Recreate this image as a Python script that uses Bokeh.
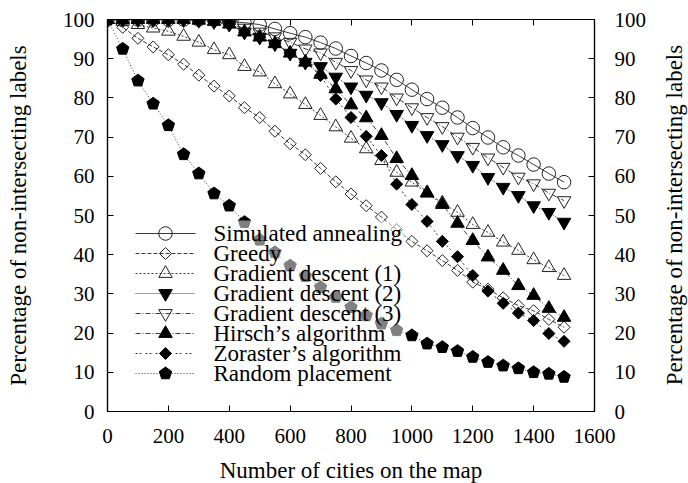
import math
from bokeh.plotting import figure
from bokeh.layouts import row
from bokeh.models import (LinearAxis, Range1d, FixedTicker, CustomJSTickFormatter,
                          BoxAnnotation, Div)
from bokeh.core.properties import value
from bokeh.embed import file_html
from bokeh.resources import INLINE

cities = [0, 50, 100, 150, 200, 250, 300, 350, 400, 450, 500, 550, 600, 650, 700, 750,
          800, 850, 900, 950, 1000, 1050, 1100, 1150, 1200, 1250, 1300, 1350, 1400, 1450, 1500]

simulated_annealing = [100, 100, 100, 100, 100, 100, 100, 100, 99.5, 99.2, 98.7, 97.6, 96.5, 95.5, 94.1, 92.6,
                       90.7, 88.9, 87.0, 84.6, 82.1, 79.7, 77.5, 75.0, 72.3, 69.9, 67.4, 65.3, 63.0, 60.7, 58.5]
greedy = [100, 98.0, 95.2, 93.0, 91.0, 88.6, 85.8, 83.0, 80.5, 77.5, 75.0, 71.5, 68.3, 65.5, 62.0, 58.6,
          55.5, 52.5, 49.6, 46.4, 43.4, 41.0, 38.5, 36.0, 33.0, 31.2, 29.0, 27.0, 25.7, 23.5, 21.5]
gradient_1 = [100, 99.5, 98.7, 97.8, 97.0, 95.7, 94.2, 92.3, 91.0, 88.0, 86.6, 83.6, 81.0, 78.3, 75.5, 72.6,
              69.7, 67.0, 64.0, 61.0, 58.5, 55.8, 53.2, 50.8, 47.7, 45.7, 43.2, 41.1, 38.7, 36.7, 34.7]
gradient_2 = [100, 100, 100, 100, 100, 100, 99.8, 99.5, 98.8, 96.8, 95.5, 93.8, 91.4, 89.1, 88.0, 85.3,
              82.8, 80.7, 78.8, 75.8, 73.0, 70.4, 68.1, 65.3, 62.8, 59.7, 57.2, 55.1, 52.5, 50.8, 48.3]
gradient_3 = [100, 100, 100, 100, 100, 100, 100, 99.5, 98.8, 97.8, 96.8, 95.6, 94.2, 92.5, 91.5, 89.1,
              87.0, 84.6, 82.8, 80.0, 77.5, 75.0, 72.7, 70.0, 67.4, 64.7, 62.3, 59.8, 58.1, 55.7, 53.8]
hirsch = [100, 100, 100, 100, 100, 100, 99.8, 99.5, 98.8, 96.8, 95.5, 93.8, 91.4, 89.1, 86.0, 82.3,
          78.2, 74.9, 70.4, 64.5, 60.2, 55.7, 52.8, 48.0, 43.6, 39.4, 36.0, 32.1, 29.6, 26.3, 24.0]
zoraster = [100, 100, 100, 100, 100, 100, 99.8, 99.5, 98.8, 96.8, 95.5, 93.8, 91.4, 89.1, 85.7, 79.7,
            75.0, 70.2, 65.3, 58.0, 52.8, 48.5, 43.4, 39.5, 34.7, 30.7, 27.6, 25.1, 23.2, 19.9, 17.9]
random_placement = [100, 92.5, 84.4, 78.5, 73.0, 65.6, 60.7, 55.6, 52.5, 48.3, 43.8, 40.6, 37.2, 34.5, 31.7, 29.2,
                    26.6, 24.5, 22.4, 20.7, 19.4, 17.3, 16.4, 15.4, 13.9, 12.6, 11.7, 11.0, 10.0, 9.6, 8.8]

series_names = ["Simulated annealing", "Greedy", "Gradient descent (1)", "Gradient descent (2)",
                "Gradient descent (3)", "Hirsch\u2019s algorithm", "Zoraster\u2019s algorithm",
                "Random placement"]

x_ticks = [0, 200, 400, 600, 800, 1000, 1200, 1400, 1600]
y_ticks = [0, 10, 20, 30, 40, 50, 60, 70, 80, 90, 100]
x_title = "Number of cities on the map"
y_title = "Percentage of non-intersecting labels"

FONT = "Liberation Serif"
TICK_FS = "21px"
LABEL_FS = "23px"

X0, X1, Y0, Y1 = 0, 1600, 0, 100
FW, FH = 487, 392
LEFT, TOP = 107, 19
PW, PH = 660, 483
px_x = (X1 - X0) / FW
px_y = (Y1 - Y0) / FH

p = figure(width=PW, height=PH, output_backend="svg", toolbar_location=None,
           x_range=Range1d(X0, X1), y_range=Range1d(Y0, Y1),
           frame_width=FW, frame_height=FH,
           min_border_left=LEFT, min_border_right=PW - LEFT - FW, min_border_top=TOP,
           min_border_bottom=PH - TOP - FH)
p.grid.visible = False
p.outline_line_color = "black"
p.outline_line_width = 1.2
p.background_fill_color = "white"
p.border_fill_color = "white"

def style_axis(ax):
    ax.axis_line_color = "black"
    ax.axis_line_width = 1.2
    ax.major_tick_in = 6
    ax.major_tick_out = 0
    ax.minor_tick_in = 0
    ax.minor_tick_out = 0
    ax.major_tick_line_color = "black"
    ax.major_label_text_font = FONT
    ax.major_label_text_font_size = TICK_FS
    ax.major_label_text_color = "black"
    ax.axis_label_text_font = FONT
    ax.axis_label_text_font_size = LABEL_FS
    ax.axis_label_text_font_style = "normal"
    ax.axis_label_text_color = "black"

p.xaxis.ticker = FixedTicker(ticks=x_ticks)
p.yaxis.ticker = FixedTicker(ticks=y_ticks)
p.xaxis.axis_label = x_title
p.yaxis.axis_label = y_title
style_axis(p.xaxis[0])
style_axis(p.yaxis[0])
p.xaxis.major_label_standoff = 17
p.xaxis.axis_label_standoff = 12
p.yaxis.major_label_standoff = 13
p.yaxis.axis_label_standoff = 29

right = LinearAxis(ticker=FixedTicker(ticks=y_ticks))
style_axis(right)
right.major_label_standoff = 20
p.add_layout(right, "right")

top = LinearAxis(ticker=FixedTicker(ticks=x_ticks),
                 formatter=CustomJSTickFormatter(code="return ''"))
style_axis(top)
top.major_label_standoff = 0
p.add_layout(top, "above")

LC = "#3a3a3a"
PENT_R = 6.5  # px
styles = [
    ("solid", "circle", 13.5, None),
    ("4 2", "square", 8.5, None),
    ("2 2", "triangle", 13.5, None),
    ("1 1", "inverted_triangle", 13.5, "black"),
    ("5 2 1 2", "inverted_triangle", 13.5, None),
    ("5 2 1 2", "triangle", 13.5, "black"),
    ("2 2 2 4", "square", 8.5, "black"),
    ("1 2", "pentagon", PENT_R, "black"),
]
series_values = [simulated_annealing, greedy, gradient_1, gradient_2, gradient_3,
                 hirsch, zoraster, random_placement]

def draw_markers(xs, ys, marker, size, fill, level=None):
    if marker == "pentagon":
        angs = [math.pi / 2 + k * 2 * math.pi / 5 for k in range(5)]
        pxs = [[x + size * math.cos(a) * px_x for a in angs] for x in xs]
        pys = [[y + size * math.sin(a) * px_y for a in angs] for y in ys]
        r = p.patches(pxs, pys, fill_color="black", line_color="black", line_width=1)
    else:
        r = p.scatter(xs, ys, marker=marker, size=size,
                      angle=math.pi / 4 if marker == "square" else 0.0,
                      fill_color=fill if fill else None,
                      line_color="#222222" if fill is None else "black", line_width=1)
    if level:
        r.level = level
    return r

for ys, (dash, marker, size, fill) in zip(series_values, styles):
    p.line(cities, ys, line_color=LC, line_width=1, line_dash=dash)
    draw_markers(cities, ys, marker, size, fill)

# key (legend) layout, in screen px relative to the frame's bottom-left corner
LEG_LEFT, LEG_BOTTOM, ROW_H, GLYPH_W, TEXT_GAP = 28, 28, 20, 60, 18
n = len(series_names)

box = BoxAnnotation(left=X0 + (LEG_LEFT - 5) * px_x, right=X0 + 298 * px_x,
                    bottom=Y0 + LEG_BOTTOM * px_y, top=Y0 + (LEG_BOTTOM + ROW_H * n + 3) * px_y,
                    fill_color="white", fill_alpha=0.5, line_color=None)
p.add_layout(box)

row_y = [Y0 + (LEG_BOTTOM + ROW_H * (n - 1 - i) + ROW_H / 2) * px_y for i in range(n)]
key_x0 = X0 + LEG_LEFT * px_x
key_x1 = X0 + (LEG_LEFT + GLYPH_W) * px_x
key_xm = (key_x0 + key_x1) / 2
for yk, (dash, marker, size, fill) in zip(row_y, styles):
    lr = p.line([key_x0, key_x1], [yk, yk], line_color=LC, line_width=1, line_dash=dash)
    lr.level = "overlay"
    draw_markers([key_xm], [yk], marker, size, fill, level="overlay")

text_x = [X0 + (LEG_LEFT + GLYPH_W + TEXT_GAP) * px_x] * n
tr = p.text(x=text_x, y=row_y, text=series_names, text_font=value(FONT),
            text_font_size=value(LABEL_FS), text_color="black",
            text_baseline="middle", text_align="left")
tr.level = "overlay"

# right-hand title (reads bottom to top, like the left one)
RW = 688 - PW
right_html = (
    f'<div style="position:relative;width:{RW}px;height:{PH}px;">'
    f'<div style="position:absolute;left:{RW // 2}px;top:{TOP + FH // 2}px;'
    f'transform:translate(-50%,-50%) rotate(-90deg);white-space:nowrap;'
    f"font-family:'{FONT}';font-size:{LABEL_FS};line-height:1;color:black;\">"
    f'{y_title}</div></div>'
)
right_title = Div(text=right_html, width=RW, height=PH, margin=(0, 0, 0, 0))

layout = row(p, right_title, spacing=0)

open("out.html", "w").write(file_html(layout, INLINE))
